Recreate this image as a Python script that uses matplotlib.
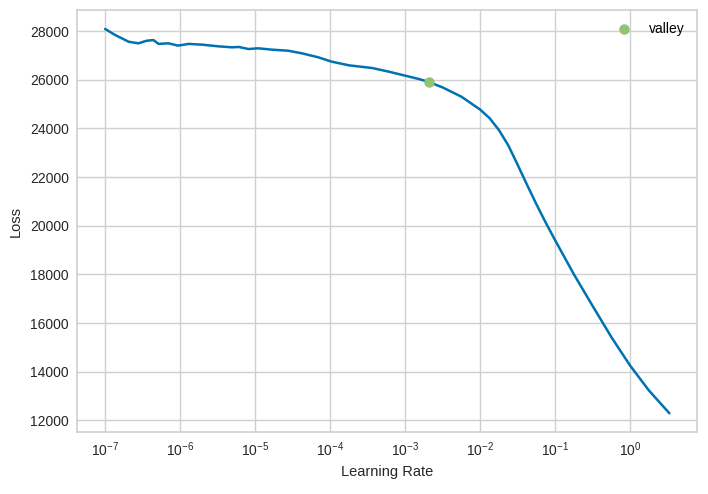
import numpy as np
import matplotlib
matplotlib.use("Agg")
import matplotlib.pyplot as plt

# learning rate finder curve
log_lr = [-7.0, -6.87, -6.78, -6.69, -6.56, -6.45, -6.36, -6.29, -6.16, -6.03,
          -5.89, -5.71, -5.49, -5.31, -5.22, -5.09, -4.96, -4.78, -4.56, -4.38,
          -4.16, -3.98, -3.75, -3.44, -3.22, -3.0, -2.82, -2.685, -2.5, -2.25,
          -2.0, -1.875, -1.75, -1.625, -1.5, -1.375, -1.25, -1.125, -1.0, -0.75,
          -0.5, -0.25, 0.0, 0.25, 0.521]
loss = [28080, 27836, 27700, 27560, 27495, 27600, 27630, 27470, 27495, 27400,
        27470, 27440, 27370, 27330, 27345, 27260, 27290, 27235, 27190, 27085,
        26920, 26740, 26590, 26480, 26330, 26165, 26030, 25907, 25680, 25300,
        24770, 24420, 23930, 23300, 22500, 21680, 20880, 20120, 19400, 18000,
        16700, 15420, 14250, 13230, 12300]
lr = [10 ** v for v in log_lr]

valley_lr = 10 ** -2.685
valley_loss = 25907

plt.rcParams['font.family'] = ['Liberation Sans', 'DejaVu Sans']
plt.rcParams['mathtext.fontset'] = 'custom'
plt.rcParams['mathtext.rm'] = 'Liberation Sans'
plt.rcParams['mathtext.it'] = 'Liberation Sans'

fig, ax = plt.subplots(figsize=(7.08, 4.94), dpi=100)
fig.subplots_adjust(left=0.109, right=0.985, top=0.98, bottom=0.125)

ax.plot(lr, loss, color='#0072B2', lw=1.8)
ax.plot(valley_lr, valley_loss, 'o', color='#94c273', ms=6.5, label='valley', zorder=3)
ax.set_xscale('log')
ax.set_xlabel('Learning Rate', fontsize=10.5, color='#262626')
ax.set_ylabel('Loss', fontsize=10.5, color='#262626', labelpad=5)
ax.set_yticks(np.arange(12000, 28001, 2000))
ax.tick_params(labelsize=10, colors='#262626', length=0, pad=6)
ax.minorticks_off()
ax.grid(True, color='#d0d0d0', lw=1)
for s in ax.spines.values():
    s.set_color('#cfcfcf')
    s.set_linewidth(1.2)
ax.legend(frameon=False, loc='upper right', fontsize=10)

plt.savefig('out.png', dpi=100)
